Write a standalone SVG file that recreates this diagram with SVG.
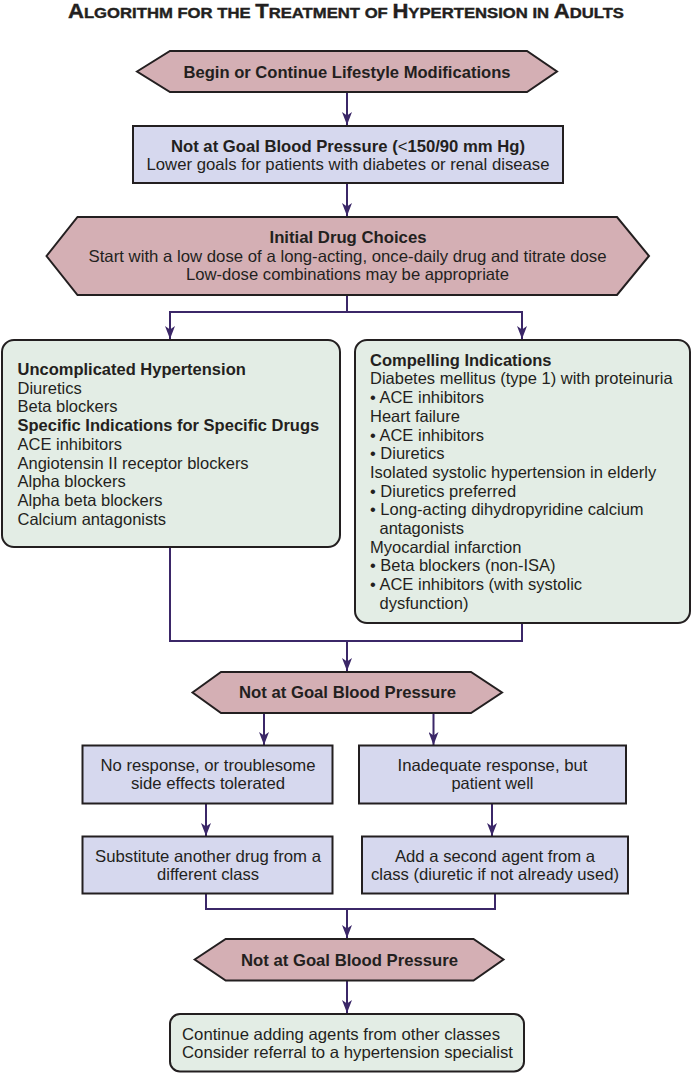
<svg xmlns="http://www.w3.org/2000/svg" width="691" height="1073" viewBox="0 0 691 1073">
<style>
  text { font-family: "Liberation Sans", Arial, sans-serif; fill: #231f20; font-size: 16.5px; }
  .b { font-weight: bold; }
  .c { text-anchor: middle; }
  .hex { fill: #d4afb4; stroke: #231f20; stroke-width: 2; }
  .lav { fill: #d6d8ee; stroke: #231f20; stroke-width: 2; }
  .grn { fill: #e3ede5; stroke: #231f20; stroke-width: 2; }
  .con { fill: none; stroke: #3b2768; stroke-width: 2; }
  .arr { fill: none; stroke: #3b2768; stroke-width: 2; marker-end: url(#ah); }
  .title { font-weight: bold; font-size: 15.5px; stroke: #231f20; stroke-width: 0.4px; }
  .big { font-size: 20.5px; }
</style>
<defs>
  <marker id="ah" viewBox="0 0 13 10" markerWidth="13" markerHeight="10" refX="13" refY="5" orient="auto" markerUnits="userSpaceOnUse">
    <path d="M0,0 L13,5 L0,10 L3.5,5 z" fill="#3b2768"/>
  </marker>
</defs>
<rect width="691" height="1073" fill="#ffffff"/>

<g id="title">
  <text class="title" x="68" y="18" textLength="556" lengthAdjust="spacingAndGlyphs"><tspan class="big">A</tspan>LGORITHM FOR THE <tspan class="big">T</tspan>REATMENT OF <tspan class="big">H</tspan>YPERTENSION IN <tspan class="big">A</tspan>DULTS</text>
</g>

<g id="connectors">
  <line class="arr" x1="347" y1="92" x2="347" y2="125"/>
  <line class="arr" x1="347" y1="183" x2="347" y2="216"/>
  <polyline class="con" points="170,312 522,312"/>
  <line class="con" x1="347" y1="295" x2="347" y2="312"/>
  <line class="arr" x1="170" y1="311" x2="170" y2="339"/>
  <line class="arr" x1="522" y1="311" x2="522" y2="339"/>
  <polyline class="con" points="170,548 170,641 522,641 522,623"/>
  <line class="arr" x1="347" y1="641" x2="347" y2="671"/>
  <line class="arr" x1="264" y1="713" x2="264" y2="745"/>
  <line class="arr" x1="433.5" y1="713" x2="433.5" y2="745"/>
  <line class="arr" x1="206" y1="804" x2="206" y2="836"/>
  <line class="arr" x1="492" y1="804" x2="492" y2="836"/>
  <polyline class="con" points="206,894 206,909 495,909 495,894"/>
  <line class="arr" x1="347" y1="909" x2="347" y2="938"/>
  <line class="arr" x1="347" y1="981" x2="347" y2="1013"/>
</g>

<g id="n1">
  <polygon class="hex" points="137,71.5 170,51 527,51 557,71.5 527,92 170,92"/>
  <text class="b c" x="347" y="77.5" textLength="327" lengthAdjust="spacingAndGlyphs">Begin or Continue Lifestyle Modifications</text>
</g>

<g id="n2">
  <rect class="lav" x="133" y="126" width="430" height="57"/>
  <text class="b c" x="348" y="151.5" textLength="354" lengthAdjust="spacingAndGlyphs">Not at Goal Blood Pressure (<tspan font-weight="normal">&lt;</tspan>150/90 mm Hg)</text>
  <text class="c" x="348" y="170" textLength="403" lengthAdjust="spacingAndGlyphs">Lower goals for patients with diabetes or renal disease</text>
</g>

<g id="n3">
  <polygon class="hex" points="46.5,256 77.5,217 617,217 649,256 617,295 77.5,295"/>
  <text class="b c" x="348" y="243" textLength="157" lengthAdjust="spacingAndGlyphs">Initial Drug Choices</text>
  <text class="c" x="347.5" y="261.7" textLength="518" lengthAdjust="spacingAndGlyphs">Start with a low dose of a long-acting, once-daily drug and titrate dose</text>
  <text class="c" x="347.5" y="280" textLength="323" lengthAdjust="spacingAndGlyphs">Low-dose combinations may be appropriate</text>
</g>

<g id="n4">
  <rect class="grn" x="2" y="340" width="338" height="207" rx="12"/>
  <text class="b" x="17.5" y="375">Uncomplicated Hypertension</text>
  <text x="17.5" y="393.7">Diuretics</text>
  <text x="17.5" y="412.4">Beta blockers</text>
  <text class="b" x="17.5" y="431.1">Specific Indications for Specific Drugs</text>
  <text x="17.5" y="449.8">ACE inhibitors</text>
  <text x="17.5" y="468.5">Angiotensin II receptor blockers</text>
  <text x="17.5" y="487.2">Alpha blockers</text>
  <text x="17.5" y="505.9">Alpha beta blockers</text>
  <text x="17.5" y="524.6">Calcium antagonists</text>
</g>

<g id="n5">
  <rect class="grn" x="355" y="340" width="335" height="283" rx="12"/>
  <text class="b" x="370" y="365.7">Compelling Indications</text>
  <text x="370" y="384.4">Diabetes mellitus (type 1) with proteinuria</text>
  <text x="370" y="403.1">• ACE inhibitors</text>
  <text x="370" y="421.8">Heart failure</text>
  <text x="370" y="440.5">• ACE inhibitors</text>
  <text x="370" y="459.2">• Diuretics</text>
  <text x="370" y="477.9">Isolated systolic hypertension in elderly</text>
  <text x="370" y="496.6">• Diuretics preferred</text>
  <text x="370" y="515.3">• Long-acting dihydropyridine calcium</text>
  <text x="379.5" y="534">antagonists</text>
  <text x="370" y="552.7">Myocardial infarction</text>
  <text x="370" y="571.4">• Beta blockers (non-ISA)</text>
  <text x="370" y="590.1">• ACE inhibitors (with systolic</text>
  <text x="379.5" y="608.8">dysfunction)</text>
</g>

<g id="n6">
  <polygon class="hex" points="192.5,692.5 221,672 471,672 502,692.5 471,713 221,713"/>
  <text class="b c" x="347.5" y="698.3" textLength="217" lengthAdjust="spacingAndGlyphs">Not at Goal Blood Pressure</text>
</g>

<g id="n7">
  <rect class="lav" x="82.5" y="745.5" width="250" height="58"/>
  <text class="c" x="208" y="770.7" textLength="215" lengthAdjust="spacingAndGlyphs">No response, or troublesome</text>
  <text class="c" x="208" y="789.3" textLength="154" lengthAdjust="spacingAndGlyphs">side effects tolerated</text>
</g>

<g id="n8">
  <rect class="lav" x="359" y="745.5" width="267" height="58"/>
  <text class="c" x="492.5" y="770.7" textLength="190" lengthAdjust="spacingAndGlyphs">Inadequate response, but</text>
  <text class="c" x="492.5" y="789.3" textLength="82" lengthAdjust="spacingAndGlyphs">patient well</text>
</g>

<g id="n9">
  <rect class="lav" x="82.5" y="836.5" width="250" height="57"/>
  <text class="c" x="208" y="861.7" textLength="226" lengthAdjust="spacingAndGlyphs">Substitute another drug from a</text>
  <text class="c" x="208" y="880" textLength="102" lengthAdjust="spacingAndGlyphs">different class</text>
</g>

<g id="n10">
  <rect class="lav" x="362" y="836.5" width="266" height="57"/>
  <text class="c" x="495" y="861.7" textLength="200" lengthAdjust="spacingAndGlyphs">Add a second agent from a</text>
  <text class="c" x="495" y="880" textLength="248" lengthAdjust="spacingAndGlyphs">class (diuretic if not already used)</text>
</g>

<g id="n11">
  <polygon class="hex" points="194.7,959.5 225.7,939 473.5,939 503.5,959.5 473.5,980.5 225.7,980.5"/>
  <text class="b c" x="349.5" y="966" textLength="217" lengthAdjust="spacingAndGlyphs">Not at Goal Blood Pressure</text>
</g>

<g id="n12">
  <rect class="grn" x="170" y="1014" width="354" height="57.5" rx="10"/>
  <text x="182" y="1040" textLength="318" lengthAdjust="spacingAndGlyphs">Continue adding agents from other classes</text>
  <text x="182" y="1058.3" textLength="331" lengthAdjust="spacingAndGlyphs">Consider referral to a hypertension specialist</text>
</g>
</svg>
